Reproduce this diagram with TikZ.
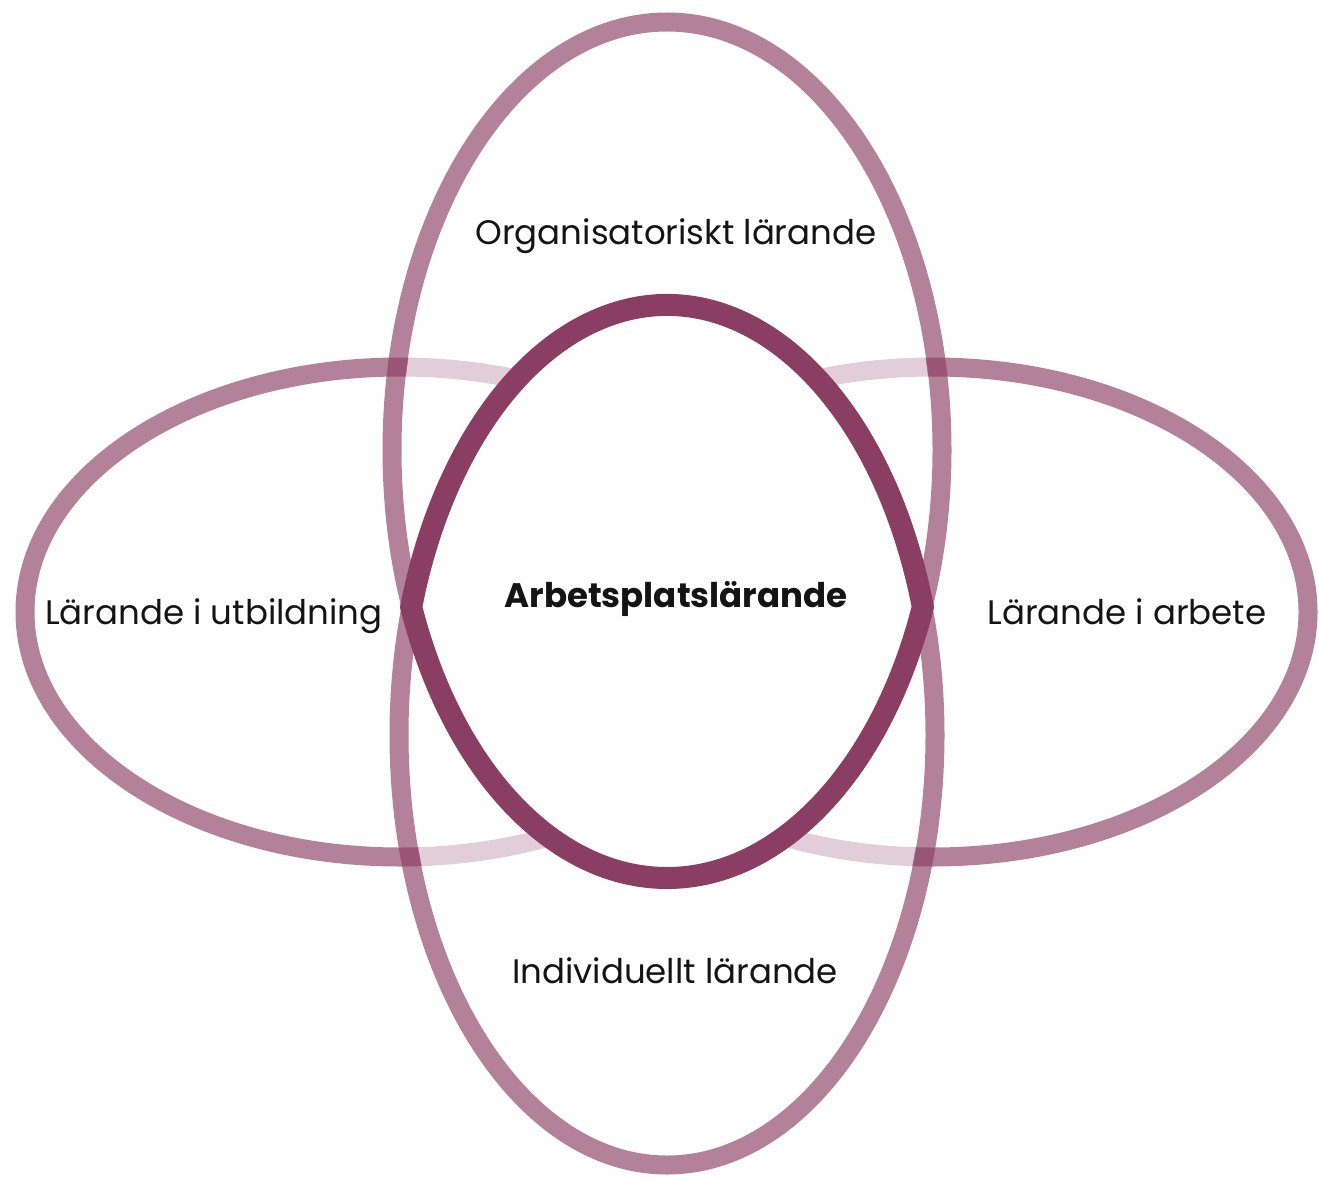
\documentclass[tikz,border=0pt]{standalone}
\usepackage{fontspec}
\setmainfont{Poppins}
\usepackage{tikz}
\definecolor{plum}{RGB}{139,62,99}
\definecolor{ink}{RGB}{20,20,20}
\tikzset{ring/.style={draw=plum, draw opacity=0.65, line width=19pt},
 veil/.style={fill=white, fill opacity=0.62},
 lens/.style={draw=plum, fill=white, line width=22pt, line join=miter},
 caption/.style={text=ink, font=\fontsize{34}{40}\selectfont, inner sep=0pt, anchor=base},
}

\begin{document}
\begin{tikzpicture}[x=1pt,y=1pt]
    \useasboundingbox (0,0) rectangle (1319,-1182);
    \coordinate (top) at (667,-450);
    \coordinate (bot) at (667,-735);
    \foreach \cx in {400,933} {
        \draw[ring] (\cx,-612) ellipse [x radius=375pt, y radius=245pt];
    }
    \fill[veil] (top) ellipse [x radius=265pt, y radius=418pt];
    \fill[veil] (bot) ellipse [x radius=258pt, y radius=420pt];
    \draw[ring] (top) ellipse [x radius=275pt, y radius=428pt];
    \draw[ring] (bot) ellipse [x radius=268pt, y radius=430pt];
    \draw[lens] (667,-878)
        arc [start angle=270, end angle=338.49, x radius=275pt, y radius=428pt]
        arc [start angle=17.33, end angle=162.67, x radius=268pt, y radius=430pt]
        arc [start angle=201.51, end angle=270, x radius=275pt, y radius=428pt];

    \node[caption] (org) at (676,-245) {Organisatoriskt lärande};
    \node[caption, font=\fontsize{34}{40}\selectfont\bfseries] (work) at (676,-607) {Arbetsplatslärande};
    \node[caption] (edu) at (214,-624) {Lärande i utbildning};
    \node[caption] (job) at (1127,-624) {Lärande i arbete};
    \node[caption] (ind) at (675,-983) {Individuellt lärande};
\end{tikzpicture}
\end{document}
